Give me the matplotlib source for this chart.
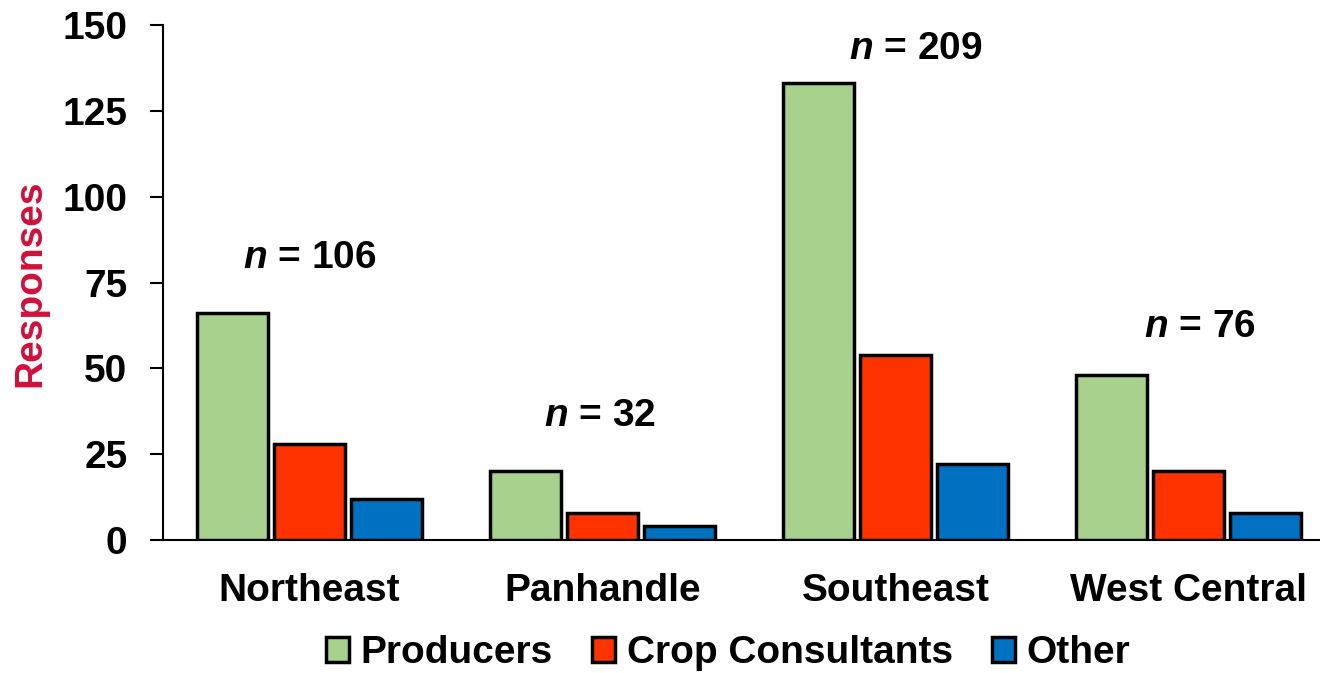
import numpy as np
import matplotlib
matplotlib.use('Agg')
import matplotlib.pyplot as plt

plt.rcParams['font.family'] = ['Liberation Sans', 'DejaVu Sans']
plt.rcParams['font.weight'] = 'bold'
plt.rcParams['mathtext.fontset'] = 'custom'
plt.rcParams['mathtext.it'] = 'Liberation Sans:bold:italic'
plt.rcParams['mathtext.rm'] = 'Liberation Sans:bold'

regions = ['Northeast', 'Panhandle', 'Southeast', 'West Central']
producers = [66, 20, 133, 48]
consultants = [28, 8, 54, 20]
other = [12, 4, 22, 8]
n_totals = [106, 32, 209, 76]
n_label_y = [82, 36, 143, 62]
n_label_dx = [0, -0.01, 0.07, 0.04]

series = [('Producers', producers, '#A9D18E'),
          ('Crop Consultants', consultants, '#FF3300'),
          ('Other', other, '#0070C0')]

fig = plt.figure(figsize=(13.2, 6.73), dpi=100)
ax = fig.add_axes([163/1320, 1 - 540/673, (1335 - 163)/1320, (540 - 25)/673])

x = np.arange(len(regions))
width = 0.24
step = 0.263
for i, (name, vals, col) in enumerate(series):
    ax.bar(x + (i - 1) * step, vals, width, color=col, edgecolor='black',
           linewidth=2.5, label=name, zorder=3)

for xi, n, yy, dx in zip(x, n_totals, n_label_y, n_label_dx):
    ax.text(xi + dx, yy, r'$n$ = %d' % n, ha='center', va='center',
            fontsize=28, fontweight='bold')

ax.set_xlim(-0.5, 3.5)
ax.set_ylim(0, 150)
ax.set_yticks([0, 25, 50, 75, 100, 125, 150])
ax.set_xticks(x)
ax.set_xticklabels(regions)
ax.tick_params(axis='x', length=0, pad=24, labelsize=28)
ax.tick_params(axis='y', length=9.5, width=1.5, direction='out', pad=16, labelsize=28)
for s in ['top', 'right']:
    ax.spines[s].set_visible(False)
ax.spines['left'].set_linewidth(1.5)
ax.spines['bottom'].set_linewidth(1.5)

fig.text(30/1320, 1 - 283/673, 'Responses', rotation=90, ha='center', va='center',
         fontsize=28, fontweight='bold', color='#D0103A')

fig.legend(loc='center', bbox_to_anchor=(728/1320, 1 - 653/673), ncol=3,
           frameon=False, handlelength=0.6, handleheight=0.6,
           handletextpad=0.3, columnspacing=1.0,
           prop={'family': ['Liberation Sans'], 'weight': 'bold', 'size': 28})

fig.savefig('out.png', dpi=100)
